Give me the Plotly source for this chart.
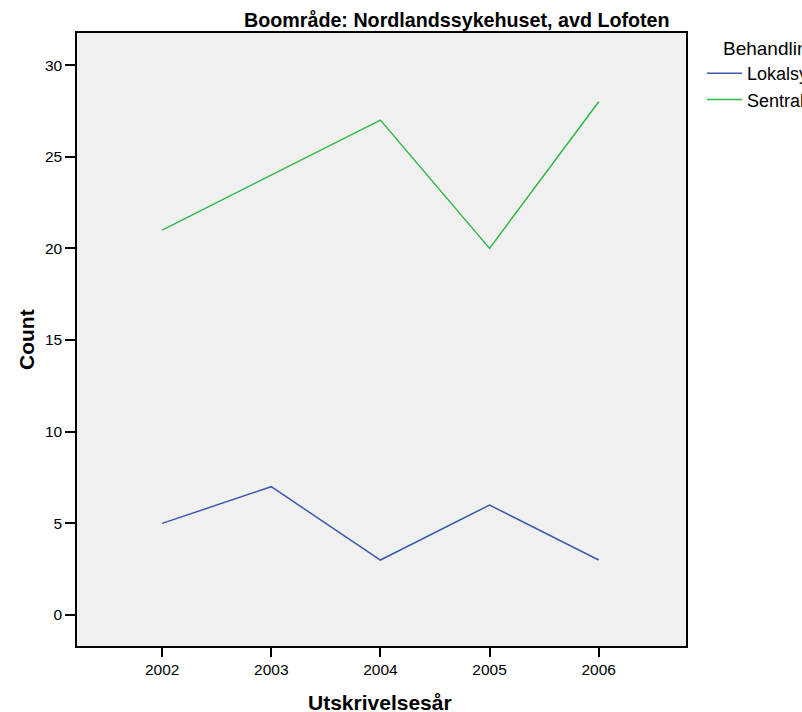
import plotly.graph_objects as go

years = [2002, 2003, 2004, 2005, 2006]
lokal = [5, 7, 3, 6, 3]
sentral = [21, 24, 27, 20, 28]
series_names = ["Lokalsykehus", "Sentralsykehus"]
colors = ["#3E58AC", "#2EB848"]
y_ticks = [0, 5, 10, 15, 20, 25, 30]

fig = go.Figure()
for name, vals, col in zip(series_names, [lokal, sentral], colors):
    fig.add_trace(go.Scatter(x=years, y=vals, mode="lines", name=name,
                             line=dict(color=col, width=1.5)))

font = "Liberation Sans, Arial, sans-serif"
L, T, R, B = 77, 33, 686, 646
W, H = 802, 712
pw, ph = R - L, B - T

fig.update_layout(
    width=W, height=H,
    margin=dict(l=L, r=W - R, t=T, b=H - B, autoexpand=False),
    paper_bgcolor="white", plot_bgcolor="#F0F0F0",
    font=dict(family=font, size=15, color="black"),
    showlegend=True,
    legend=dict(x=(702 - L) / pw, xanchor="left", y=1 - (55 - T) / ph, yanchor="top",
                font=dict(size=18), bgcolor="rgba(0,0,0,0)", tracegroupgap=0,
                itemwidth=35),
    xaxis=dict(range=[2001.22, 2006.80], tickvals=years, ticktext=[str(y) for y in years],
               showgrid=False, zeroline=False, showline=True, linecolor="black", linewidth=1.5,
               mirror=True, ticks="outside", ticklen=9, tickcolor="black", tickwidth=1.5,
               tickfont=dict(size=15.5)),
    yaxis=dict(range=[-1.69, 31.75], tickvals=y_ticks,
               showgrid=False, zeroline=False, showline=True, linecolor="black", linewidth=1.5,
               mirror=True, ticks="outside", ticklen=10, tickcolor="black", tickwidth=1.5,
               tickfont=dict(size=15.5)),
    annotations=[
        dict(text="<b>Boområde: Nordlandssykehuset, avd Lofoten</b>", xref="paper", yref="paper",
             x=(672 - L) / pw, y=1, yshift=13, xanchor="right", yanchor="middle",
             showarrow=False, font=dict(size=19.7)),
        dict(text="<b>Utskrivelsesår</b>", xref="paper", yref="paper",
             x=(380 - L) / pw, y=0, yshift=-56, xanchor="center", yanchor="middle",
             showarrow=False, font=dict(size=21)),
        dict(text="<b>Count</b>", xref="paper", yref="paper", textangle=-90,
             x=0, xshift=-(L - 26.5), y=0.5, xanchor="center", yanchor="middle",
             showarrow=False, font=dict(size=21)),
        dict(text="Behandlingsnivå", xref="paper", yref="paper",
             x=(721 - L) / pw, y=1, yshift=-(48 - T), xanchor="left", yanchor="middle",
             showarrow=False, font=dict(size=19)),
    ],
)

fig.write_html("out.html", config={"displayModeBar": False},
               post_script="document.body.style.margin='0px';document.body.style.overflow='hidden';")
